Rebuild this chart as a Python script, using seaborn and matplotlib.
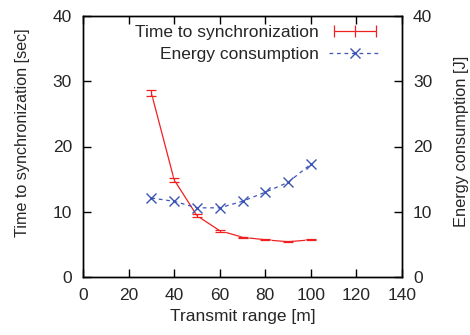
import matplotlib
matplotlib.use("Agg")
import matplotlib.pyplot as plt
from matplotlib.lines import Line2D
from matplotlib.legend_handler import HandlerLine2D
import seaborn as sns
import pandas as pd

# ---- data ----
transmit_range = [30, 40, 50, 60, 70, 80, 90, 100]
sync_time = [28.2, 14.9, 9.4, 7.1, 6.1, 5.7, 5.4, 5.7]
sync_err = [0.5, 0.3, 0.2, 0.15, 0.1, 0.1, 0.1, 0.1]
energy = [12.1, 11.6, 10.6, 10.6, 11.6, 13.0, 14.5, 17.3]
x_ticks = [0, 20, 40, 60, 80, 100, 120, 140]
y_ticks = [0, 10, 20, 30, 40]
label_sync = "Time to synchronization"
label_energy = "Energy consumption"

df = pd.DataFrame({"range": transmit_range, "sync": sync_time,
                   "err": sync_err, "energy": energy})

sns.set_theme(style="ticks")
plt.rcParams["font.family"] = ["Liberation Sans", "DejaVu Sans"]
plt.rcParams["font.size"] = 12.5

RED = "#f02020"
BLUE = "#3a55b5"

fig = plt.figure(figsize=(4.70, 3.35), dpi=100)
ax = fig.add_axes([83 / 470, 58 / 335, 319 / 470, 261 / 335])
ax2 = ax.twinx()

sns.lineplot(data=df, x="range", y="sync", ax=ax, color=RED, lw=0.9,
             marker="+", markersize=9, markeredgewidth=1.0, legend=False)
ax.errorbar(df["range"], df["sync"], yerr=df["err"], fmt="none",
            ecolor=RED, elinewidth=0.9, capsize=3.5, capthick=0.9)

sns.lineplot(data=df, x="range", y="energy", ax=ax2, color=BLUE, lw=0.9,
             linestyle=(0, (3, 3)), marker="x", markersize=7,
             markeredgewidth=1.0, markeredgecolor=BLUE, legend=False)

for a in (ax, ax2):
    a.set_xlim(0, 140)
    a.set_ylim(0, 40)
    a.set_yticks(y_ticks)
ax.set_xticks(x_ticks)

ax.set_xlabel("Transmit range [m]", fontsize=12.5, labelpad=4)
ax.set_ylabel("Time to synchronization [sec]", fontsize=11.6)
ax2.set_ylabel("Energy consumption [J]", fontsize=11.8)
ax.yaxis.set_label_coords(-0.166, 0.552)
ax2.yaxis.set_label_coords(1.164, 0.521)

ax.tick_params(axis="both", direction="in", length=6, width=1, color="black",
               labelsize=12.5, pad=8, top=True, bottom=True, left=True, right=False)
ax2.tick_params(axis="y", direction="in", length=6, width=1, color="black",
                labelsize=12.5, pad=8, right=True, left=False)
ax2.tick_params(axis="x", top=False, bottom=False)

for a in (ax, ax2):
    for s in a.spines.values():
        s.set_visible(True)
        s.set_color("black")
        s.set_linewidth(1.0)

h_sync = Line2D([], [], color=RED, lw=0.9, marker="|", markersize=8,
                markeredgewidth=0.9)
h_energy = Line2D([], [], color=BLUE, lw=0.9, linestyle=(0, (3, 3)),
                  marker="x", markersize=7, markeredgewidth=1.0)
leg = ax2.legend([h_sync, h_energy], [label_sync, label_energy],
                 loc="upper right", bbox_to_anchor=(0.934, 0.965),
                 frameon=False, markerfirst=False, borderpad=0,
                 borderaxespad=0, handlelength=3.0, handletextpad=0.6,
                 labelspacing=0.38, fontsize=12.5,
                 handler_map={h_sync: HandlerLine2D(numpoints=3)})
try:
    for col in leg._legend_handle_box.get_children():
        col.align = "right"
except Exception:
    pass

fig.savefig("out.png", dpi=100)
